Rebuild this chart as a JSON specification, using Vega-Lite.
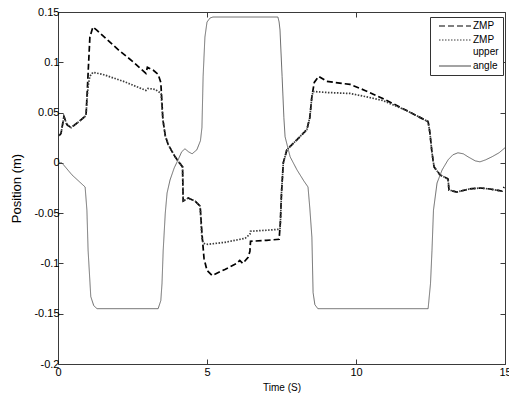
{
  "$schema": "https://vega.github.io/schema/vega-lite/v6.json",
  "autosize": "none",
  "width": 447,
  "height": 352,
  "padding": {"left": 58, "top": 12, "right": 4, "bottom": 32},
  "background": "white",
  "config": {
    "font": "Liberation Sans",
    "view": {"stroke": "#3a3a3a", "strokeWidth": 1},
    "axis": {
      "grid": false,
      "domain": false,
      "tickColor": "#3a3a3a",
      "tickSize": -5,
      "labelFont": "Liberation Sans",
      "labelFontSize": 11,
      "labelColor": "#000",
      "titleFont": "Liberation Sans",
      "titleFontWeight": "normal",
      "titleColor": "#000",
      "labelFlush": false,
      "labelOverlap": false
    }
  },
  "data": {
    "values": [
      {"s": "ZMP", "i": 1, "t": 0.03, "y": 0.027},
      {"s": "ZMP", "i": 2, "t": 0.1, "y": 0.029},
      {"s": "ZMP", "i": 3, "t": 0.2, "y": 0.046},
      {"s": "ZMP", "i": 4, "t": 0.3, "y": 0.038},
      {"s": "ZMP", "i": 5, "t": 0.44, "y": 0.035},
      {"s": "ZMP", "i": 6, "t": 0.7, "y": 0.041},
      {"s": "ZMP", "i": 7, "t": 0.94, "y": 0.047},
      {"s": "ZMP", "i": 8, "t": 0.98, "y": 0.07},
      {"s": "ZMP", "i": 9, "t": 1.02, "y": 0.095},
      {"s": "ZMP", "i": 10, "t": 1.07, "y": 0.125},
      {"s": "ZMP", "i": 11, "t": 1.17, "y": 0.135},
      {"s": "ZMP", "i": 12, "t": 1.3, "y": 0.132},
      {"s": "ZMP", "i": 13, "t": 2.0, "y": 0.113},
      {"s": "ZMP", "i": 14, "t": 2.5, "y": 0.101},
      {"s": "ZMP", "i": 15, "t": 2.95, "y": 0.089},
      {"s": "ZMP", "i": 16, "t": 3.0, "y": 0.095},
      {"s": "ZMP", "i": 17, "t": 3.2, "y": 0.092},
      {"s": "ZMP", "i": 18, "t": 3.36, "y": 0.088},
      {"s": "ZMP", "i": 19, "t": 3.45, "y": 0.08},
      {"s": "ZMP", "i": 20, "t": 3.52, "y": 0.043},
      {"s": "ZMP", "i": 21, "t": 3.6, "y": 0.027},
      {"s": "ZMP", "i": 22, "t": 3.7, "y": 0.018},
      {"s": "ZMP", "i": 23, "t": 3.93, "y": 0.006},
      {"s": "ZMP", "i": 24, "t": 4.05, "y": 0.001},
      {"s": "ZMP", "i": 25, "t": 4.18, "y": -0.004},
      {"s": "ZMP", "i": 26, "t": 4.2, "y": -0.038},
      {"s": "ZMP", "i": 27, "t": 4.37, "y": -0.035},
      {"s": "ZMP", "i": 28, "t": 4.6, "y": -0.038},
      {"s": "ZMP", "i": 29, "t": 4.77, "y": -0.043},
      {"s": "ZMP", "i": 30, "t": 4.83, "y": -0.07},
      {"s": "ZMP", "i": 31, "t": 4.9, "y": -0.095},
      {"s": "ZMP", "i": 32, "t": 5.0, "y": -0.107},
      {"s": "ZMP", "i": 33, "t": 5.17, "y": -0.112},
      {"s": "ZMP", "i": 34, "t": 5.6, "y": -0.106},
      {"s": "ZMP", "i": 35, "t": 6.0, "y": -0.1},
      {"s": "ZMP", "i": 36, "t": 6.1, "y": -0.097},
      {"s": "ZMP", "i": 37, "t": 6.2, "y": -0.1},
      {"s": "ZMP", "i": 38, "t": 6.38, "y": -0.094},
      {"s": "ZMP", "i": 39, "t": 6.44, "y": -0.088},
      {"s": "ZMP", "i": 40, "t": 6.46, "y": -0.078},
      {"s": "ZMP", "i": 41, "t": 7.0, "y": -0.077},
      {"s": "ZMP", "i": 42, "t": 7.42, "y": -0.076},
      {"s": "ZMP", "i": 43, "t": 7.46, "y": -0.06},
      {"s": "ZMP", "i": 44, "t": 7.5, "y": -0.03},
      {"s": "ZMP", "i": 45, "t": 7.56, "y": 0.0},
      {"s": "ZMP", "i": 46, "t": 7.68, "y": 0.013},
      {"s": "ZMP", "i": 47, "t": 7.95, "y": 0.021},
      {"s": "ZMP", "i": 48, "t": 8.35, "y": 0.033},
      {"s": "ZMP", "i": 49, "t": 8.45, "y": 0.045},
      {"s": "ZMP", "i": 50, "t": 8.52, "y": 0.066},
      {"s": "ZMP", "i": 51, "t": 8.6, "y": 0.08},
      {"s": "ZMP", "i": 52, "t": 8.75, "y": 0.086},
      {"s": "ZMP", "i": 53, "t": 9.02, "y": 0.081},
      {"s": "ZMP", "i": 54, "t": 9.8, "y": 0.078},
      {"s": "ZMP", "i": 55, "t": 10.3, "y": 0.072},
      {"s": "ZMP", "i": 56, "t": 10.9, "y": 0.064},
      {"s": "ZMP", "i": 57, "t": 11.7, "y": 0.052},
      {"s": "ZMP", "i": 58, "t": 12.42, "y": 0.041},
      {"s": "ZMP", "i": 59, "t": 12.48, "y": 0.03},
      {"s": "ZMP", "i": 60, "t": 12.55, "y": 0.01},
      {"s": "ZMP", "i": 61, "t": 12.62, "y": -0.004},
      {"s": "ZMP", "i": 62, "t": 12.82, "y": -0.012},
      {"s": "ZMP", "i": 63, "t": 13.09, "y": -0.016},
      {"s": "ZMP", "i": 64, "t": 13.12, "y": -0.027},
      {"s": "ZMP", "i": 65, "t": 13.38, "y": -0.029},
      {"s": "ZMP", "i": 66, "t": 13.8, "y": -0.026},
      {"s": "ZMP", "i": 67, "t": 14.16, "y": -0.025},
      {"s": "ZMP", "i": 68, "t": 14.5, "y": -0.026},
      {"s": "ZMP", "i": 69, "t": 14.9, "y": -0.028},
      {"s": "ZMP", "i": 70, "t": 14.97, "y": -0.024},

      {"s": "ZMP upper", "i": 1, "t": 0.03, "y": 0.027},
      {"s": "ZMP upper", "i": 2, "t": 0.1, "y": 0.029},
      {"s": "ZMP upper", "i": 3, "t": 0.2, "y": 0.046},
      {"s": "ZMP upper", "i": 4, "t": 0.3, "y": 0.038},
      {"s": "ZMP upper", "i": 5, "t": 0.44, "y": 0.035},
      {"s": "ZMP upper", "i": 6, "t": 0.7, "y": 0.041},
      {"s": "ZMP upper", "i": 7, "t": 0.94, "y": 0.047},
      {"s": "ZMP upper", "i": 8, "t": 0.98, "y": 0.066},
      {"s": "ZMP upper", "i": 9, "t": 1.02, "y": 0.078},
      {"s": "ZMP upper", "i": 10, "t": 1.07, "y": 0.086},
      {"s": "ZMP upper", "i": 11, "t": 1.17, "y": 0.09},
      {"s": "ZMP upper", "i": 12, "t": 1.5, "y": 0.088},
      {"s": "ZMP upper", "i": 13, "t": 2.2, "y": 0.081},
      {"s": "ZMP upper", "i": 14, "t": 2.95, "y": 0.072},
      {"s": "ZMP upper", "i": 15, "t": 3.02, "y": 0.074},
      {"s": "ZMP upper", "i": 16, "t": 3.26, "y": 0.073},
      {"s": "ZMP upper", "i": 17, "t": 3.46, "y": 0.069},
      {"s": "ZMP upper", "i": 18, "t": 3.52, "y": 0.043},
      {"s": "ZMP upper", "i": 19, "t": 3.6, "y": 0.027},
      {"s": "ZMP upper", "i": 20, "t": 3.7, "y": 0.018},
      {"s": "ZMP upper", "i": 21, "t": 3.93, "y": 0.006},
      {"s": "ZMP upper", "i": 22, "t": 4.05, "y": 0.001},
      {"s": "ZMP upper", "i": 23, "t": 4.18, "y": -0.004},
      {"s": "ZMP upper", "i": 24, "t": 4.2, "y": -0.038},
      {"s": "ZMP upper", "i": 25, "t": 4.37, "y": -0.035},
      {"s": "ZMP upper", "i": 26, "t": 4.6, "y": -0.038},
      {"s": "ZMP upper", "i": 27, "t": 4.77, "y": -0.043},
      {"s": "ZMP upper", "i": 28, "t": 4.83, "y": -0.075},
      {"s": "ZMP upper", "i": 29, "t": 4.88, "y": -0.08},
      {"s": "ZMP upper", "i": 30, "t": 5.03, "y": -0.081},
      {"s": "ZMP upper", "i": 31, "t": 5.6, "y": -0.079},
      {"s": "ZMP upper", "i": 32, "t": 6.28, "y": -0.075},
      {"s": "ZMP upper", "i": 33, "t": 6.44, "y": -0.071},
      {"s": "ZMP upper", "i": 34, "t": 6.46, "y": -0.068},
      {"s": "ZMP upper", "i": 35, "t": 7.0, "y": -0.067},
      {"s": "ZMP upper", "i": 36, "t": 7.45, "y": -0.066},
      {"s": "ZMP upper", "i": 37, "t": 7.47, "y": -0.055},
      {"s": "ZMP upper", "i": 38, "t": 7.5, "y": -0.03},
      {"s": "ZMP upper", "i": 39, "t": 7.56, "y": 0.0},
      {"s": "ZMP upper", "i": 40, "t": 7.68, "y": 0.013},
      {"s": "ZMP upper", "i": 41, "t": 7.95, "y": 0.021},
      {"s": "ZMP upper", "i": 42, "t": 8.35, "y": 0.033},
      {"s": "ZMP upper", "i": 43, "t": 8.45, "y": 0.045},
      {"s": "ZMP upper", "i": 44, "t": 8.52, "y": 0.066},
      {"s": "ZMP upper", "i": 45, "t": 8.56, "y": 0.071},
      {"s": "ZMP upper", "i": 46, "t": 9.0, "y": 0.07},
      {"s": "ZMP upper", "i": 47, "t": 9.8, "y": 0.069},
      {"s": "ZMP upper", "i": 48, "t": 10.3, "y": 0.066},
      {"s": "ZMP upper", "i": 49, "t": 10.9, "y": 0.062},
      {"s": "ZMP upper", "i": 50, "t": 11.7, "y": 0.052},
      {"s": "ZMP upper", "i": 51, "t": 12.42, "y": 0.041},
      {"s": "ZMP upper", "i": 52, "t": 12.48, "y": 0.03},
      {"s": "ZMP upper", "i": 53, "t": 12.55, "y": 0.01},
      {"s": "ZMP upper", "i": 54, "t": 12.62, "y": -0.004},
      {"s": "ZMP upper", "i": 55, "t": 12.82, "y": -0.012},
      {"s": "ZMP upper", "i": 56, "t": 13.09, "y": -0.016},
      {"s": "ZMP upper", "i": 57, "t": 13.12, "y": -0.027},
      {"s": "ZMP upper", "i": 58, "t": 13.38, "y": -0.029},
      {"s": "ZMP upper", "i": 59, "t": 13.8, "y": -0.026},
      {"s": "ZMP upper", "i": 60, "t": 14.16, "y": -0.025},
      {"s": "ZMP upper", "i": 61, "t": 14.5, "y": -0.026},
      {"s": "ZMP upper", "i": 62, "t": 14.9, "y": -0.028},

      {"s": "angle", "i": 1, "t": 0.0, "y": 0.0},
      {"s": "angle", "i": 2, "t": 0.13, "y": 0.0},
      {"s": "angle", "i": 3, "t": 0.47, "y": -0.012},
      {"s": "angle", "i": 4, "t": 0.91, "y": -0.024},
      {"s": "angle", "i": 5, "t": 0.97, "y": -0.047},
      {"s": "angle", "i": 6, "t": 1.01, "y": -0.087},
      {"s": "angle", "i": 7, "t": 1.1, "y": -0.133},
      {"s": "angle", "i": 8, "t": 1.2, "y": -0.142},
      {"s": "angle", "i": 9, "t": 1.31, "y": -0.145},
      {"s": "angle", "i": 10, "t": 3.36, "y": -0.145},
      {"s": "angle", "i": 11, "t": 3.45, "y": -0.137},
      {"s": "angle", "i": 12, "t": 3.49, "y": -0.12},
      {"s": "angle", "i": 13, "t": 3.53, "y": -0.087},
      {"s": "angle", "i": 14, "t": 3.6, "y": -0.05},
      {"s": "angle", "i": 15, "t": 3.66, "y": -0.03},
      {"s": "angle", "i": 16, "t": 3.76, "y": -0.017},
      {"s": "angle", "i": 17, "t": 3.9, "y": -0.005},
      {"s": "angle", "i": 18, "t": 4.03, "y": 0.003},
      {"s": "angle", "i": 19, "t": 4.15, "y": 0.011},
      {"s": "angle", "i": 20, "t": 4.26, "y": 0.014},
      {"s": "angle", "i": 21, "t": 4.38, "y": 0.011},
      {"s": "angle", "i": 22, "t": 4.5, "y": 0.009},
      {"s": "angle", "i": 23, "t": 4.66, "y": 0.013},
      {"s": "angle", "i": 24, "t": 4.78, "y": 0.022},
      {"s": "angle", "i": 25, "t": 4.83, "y": 0.035},
      {"s": "angle", "i": 26, "t": 4.87, "y": 0.086},
      {"s": "angle", "i": 27, "t": 4.93, "y": 0.125},
      {"s": "angle", "i": 28, "t": 5.0, "y": 0.14},
      {"s": "angle", "i": 29, "t": 5.1, "y": 0.144},
      {"s": "angle", "i": 30, "t": 5.2, "y": 0.145},
      {"s": "angle", "i": 31, "t": 7.38, "y": 0.145},
      {"s": "angle", "i": 32, "t": 7.42, "y": 0.14},
      {"s": "angle", "i": 33, "t": 7.45, "y": 0.132},
      {"s": "angle", "i": 34, "t": 7.52, "y": 0.086},
      {"s": "angle", "i": 35, "t": 7.58, "y": 0.045},
      {"s": "angle", "i": 36, "t": 7.62, "y": 0.026},
      {"s": "angle", "i": 37, "t": 7.79, "y": 0.006},
      {"s": "angle", "i": 38, "t": 8.02, "y": -0.007},
      {"s": "angle", "i": 39, "t": 8.25, "y": -0.018},
      {"s": "angle", "i": 40, "t": 8.39, "y": -0.024},
      {"s": "angle", "i": 41, "t": 8.45, "y": -0.045},
      {"s": "angle", "i": 42, "t": 8.52, "y": -0.074},
      {"s": "angle", "i": 43, "t": 8.56, "y": -0.129},
      {"s": "angle", "i": 44, "t": 8.62, "y": -0.141},
      {"s": "angle", "i": 45, "t": 8.72, "y": -0.145},
      {"s": "angle", "i": 46, "t": 12.42, "y": -0.145},
      {"s": "angle", "i": 47, "t": 12.5, "y": -0.12},
      {"s": "angle", "i": 48, "t": 12.55, "y": -0.087},
      {"s": "angle", "i": 49, "t": 12.6, "y": -0.047},
      {"s": "angle", "i": 50, "t": 12.72, "y": -0.02},
      {"s": "angle", "i": 51, "t": 12.89, "y": -0.007},
      {"s": "angle", "i": 52, "t": 13.09, "y": 0.003},
      {"s": "angle", "i": 53, "t": 13.25, "y": 0.008},
      {"s": "angle", "i": 54, "t": 13.42, "y": 0.01},
      {"s": "angle", "i": 55, "t": 13.6, "y": 0.009},
      {"s": "angle", "i": 56, "t": 13.76, "y": 0.006},
      {"s": "angle", "i": 57, "t": 14.0, "y": 0.002},
      {"s": "angle", "i": 58, "t": 14.16, "y": 0.001},
      {"s": "angle", "i": 59, "t": 14.35, "y": 0.003},
      {"s": "angle", "i": 60, "t": 14.56, "y": 0.006},
      {"s": "angle", "i": 61, "t": 14.8, "y": 0.01},
      {"s": "angle", "i": 62, "t": 15.0, "y": 0.015}
    ]
  },
  "layer": [
    {
      "mark": {"type": "line", "clip": true},
      "encoding": {
        "x": {
          "field": "t", "type": "quantitative",
          "scale": {"domain": [0, 15], "nice": false, "zero": false},
          "axis": {"title": "Time (S)", "titleFontSize": 10, "titlePadding": 5, "values": [0, 5, 10, 15], "labelPadding": 7}
        },
        "y": {
          "field": "y", "type": "quantitative",
          "scale": {"domain": [-0.2, 0.15], "nice": false, "zero": false},
          "axis": {"title": "Position (m)", "titleFontSize": 13, "titlePadding": 10, "values": [-0.2, -0.15, -0.1, -0.05, 0, 0.05, 0.1, 0.15], "labelExpr": "toString(datum.value)", "labelPadding": 4}
        },
        "order": {"field": "i", "type": "quantitative"},
        "color": {
          "field": "s", "type": "nominal",
          "scale": {"domain": ["ZMP", "ZMP upper", "angle"], "range": ["#000000", "#3c3c3c", "#484848"]},
          "legend": {
            "title": null,
            "orient": "none",
            "legendX": 372,
            "legendY": 5,
            "strokeColor": "#333",
            "fillColor": "white",
            "padding": 4,
            "cornerRadius": 0,
            "symbolType": "M0,0H10",
            "symbolSize": 41,
            "symbolStrokeWidth": 1.1,
            "labelFontSize": 10,
            "labelFont": "Liberation Sans",
            "labelColor": "#000",
            "rowPadding": 4,
            "labelOffset": 29,
            "labelExpr": "datum.label == 'ZMP upper' ? ['ZMP', 'upper'] : datum.label"
          }
        },
        "strokeDash": {
          "field": "s", "type": "nominal",
          "scale": {"domain": ["ZMP", "ZMP upper", "angle"], "range": [[6, 3], [1.5, 1.5], [1, 0]]},
          "legend": null
        },
        "strokeWidth": {
          "condition": {"test": "datum.s == 'angle'", "value": 0.8},
          "value": 1.7
        }
      }
    },
    {
      "mark": {"type": "point", "opacity": 0},
      "encoding": {
        "x": {
          "field": "t", "type": "quantitative",
          "axis": {"orient": "top", "labels": false, "title": null, "values": [0, 5, 10, 15]}
        },
        "y": {
          "field": "y", "type": "quantitative",
          "axis": {"orient": "right", "labels": false, "title": null, "values": [-0.2, -0.15, -0.1, -0.05, 0, 0.05, 0.1, 0.15]}
        }
      }
    }
  ],
  "resolve": {"axis": {"x": "independent", "y": "independent"}}
}
